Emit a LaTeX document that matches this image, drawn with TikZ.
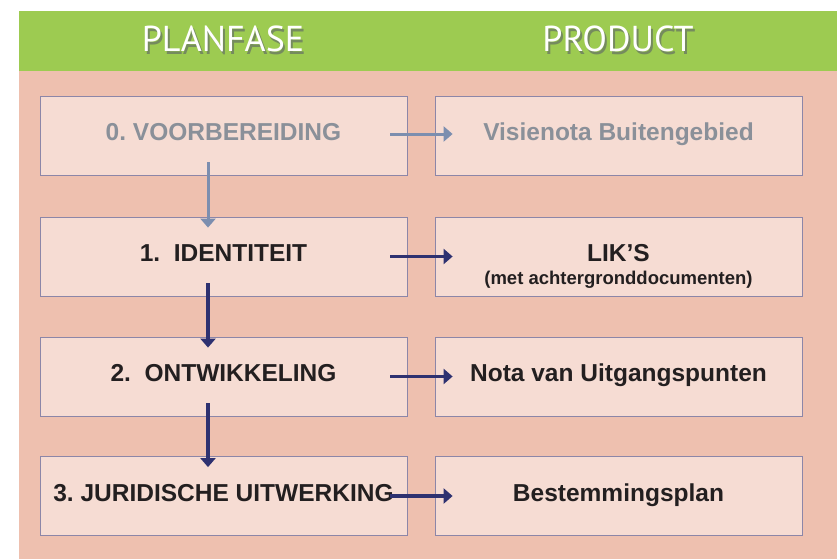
\documentclass[tikz,border=0pt]{standalone}
\usepackage{fontspec}
\setmainfont{Liberation Sans}
\newfontfamily\headfont{PT Sans}
\usepackage{tikz}
\usetikzlibrary{arrows.meta}
\frenchspacing
\definecolor{headgreen}{HTML}{9DCB51}
\definecolor{salmon}{HTML}{EEC0AF}
\definecolor{boxfill}{HTML}{F6DCD3}
\definecolor{boxline}{HTML}{8C86A8}
\definecolor{greytext}{HTML}{8A9099}
\definecolor{darktext}{HTML}{231F20}
\definecolor{navy}{HTML}{2E3170}
\definecolor{lightnavy}{HTML}{7C8EAF}
\definecolor{headshade}{HTML}{758B5E}
% header text with a soft drop shadow
\newcommand{\shadowtext}[1]{%
  \rlap{\hspace{2pt}\raisebox{-3pt}{\textcolor{headshade}{#1}}}#1}
\tikzset{
  phase/.style={draw=boxline, line width=0.8pt, fill=boxfill, minimum width=367pt,
    minimum height=79pt, inner sep=0pt, text=darktext,
    font=\bfseries\fontsize{24.5}{28}\selectfont, text height=18pt, text depth=7.6pt},
  head/.style={text=white, font=\headfont\fontsize{36}{40}\selectfont},
  flow/.style={navy, line width=3.5pt, -{Triangle[width=15pt,length=9pt]}}
}

\begin{document}
\begin{tikzpicture}[x=1pt, y=-1pt]
  \useasboundingbox (0,0) rectangle (837,559);
  % Background and header bar
  \fill[salmon] (19,71) rectangle (837,559);
  \fill[headgreen] (19,11) rectangle (837,71);
  \node[head] (planfase) at (223,40) {\shadowtext{PLANFASE}};
  \node[head] (product) at (618,40) {\shadowtext{PRODUCT}};

  % Planfase boxes
  \node[phase, text=greytext] (voor) at (223.5,135.5) {0. VOORBEREIDING};
  \node[phase] (ident) at (223.5,256.5) {1.\ \ IDENTITEIT};
  \node[phase] (ontw) at (223.5,376.5) {2.\ \ ONTWIKKELING};
  \node[phase] (jur) at (223.5,496) {3. JURIDISCHE UITWERKING};

  % Product boxes
  \node[phase, text=greytext] (visie) at (618.5,135.5) {Visienota Buitengebied};
  \node[phase] (lik) at (618.5,256.5) {LIK’S};
  \node[anchor=base, text=darktext, font=\bfseries\fontsize{18.5}{20}\selectfont] (liksub)
    at ([yshift=-28pt]lik.center) {(met achtergronddocumenten)};
  \node[phase] (nota) at (618.5,376.5) {Nota van Uitgangspunten};
  \node[phase] (bestem) at (618.5,496) {Bestemmingsplan};

  % Arrows
  \draw[flow, lightnavy, line width=3pt] ([xshift=-15.5pt,yshift=13pt]voor.south) -- ([xshift=-15.5pt,yshift=-11pt]ident.north);
  \draw[flow, lightnavy, line width=3pt] ([xshift=-17pt,yshift=1.5pt]voor.east) -- ([xshift=18pt,yshift=1.5pt]visie.west);
  \foreach \a/\b in {ident/ontw, ontw/jur} {
    \draw[flow] ([xshift=-15.5pt,yshift=13pt]\a.south) -- ([xshift=-15.5pt,yshift=-11pt]\b.north);
  }
  \foreach \a/\b in {ident/lik, ontw/nota, jur/bestem} {
    \draw[flow] ([xshift=-17pt]\a.east) -- ([xshift=18pt]\b.west);
  }
\end{tikzpicture}
\end{document}
